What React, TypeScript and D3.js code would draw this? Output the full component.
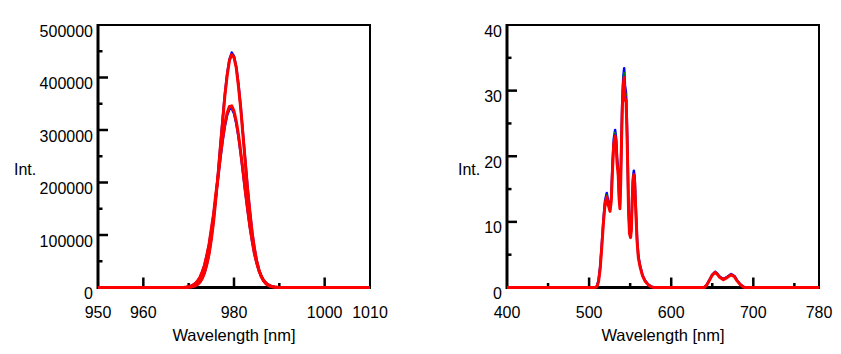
import React from "react";
import * as d3 from "d3";

// ---------- Left panel data (980 nm band) ----------
const leftWl = [950, 968, 968.5, 969, 969.5, 970, 970.5, 971, 971.5, 972, 972.5, 973, 973.5, 974, 974.5, 975, 975.5, 976, 976.5, 977, 977.5, 978, 978.5, 979, 979.5, 980, 980.5, 981, 981.5, 982, 982.5, 983, 983.5, 984, 984.5, 985, 985.5, 986, 986.5, 987, 987.5, 988, 988.5, 989, 989.5, 990, 990.5, 991, 1010];
const tallBlue = [0, 21, 49, 110, 236, 487, 975, 1878, 3480, 6220, 10700, 17800, 28450, 43850, 65100, 93200, 128600, 171000, 219100, 270500, 321900, 369000, 407800, 434300, 447500, 440700, 420100, 385800, 341500, 291300, 239500, 189700, 144800, 106500, 75500, 51600, 34000, 21560, 13190, 7770, 4415, 2410, 1273, 647, 317, 150, 70, 30, 0];
const tallGreen = [0, 20, 48, 108, 233, 482, 965, 1860, 3450, 6170, 10620, 17680, 28280, 43600, 64780, 92750, 128000, 170200, 218100, 269300, 320500, 367400, 406000, 432400, 445500, 439000, 418300, 384100, 340000, 290000, 238400, 188900, 144200, 106000, 75200, 51400, 33850, 21470, 13130, 7740, 4400, 2400, 1268, 644, 316, 149, 70, 30, 0];
const tallRed = [0, 0, 0, 60, 180, 420, 900, 1750, 3300, 6000, 10300, 17200, 27800, 43500, 63500, 92000, 125500, 170000, 216000, 269000, 317500, 367000, 404000, 433000, 443500, 438000, 418500, 382000, 340000, 288000, 238500, 187000, 144500, 104500, 75000, 50500, 33500, 21000, 12900, 7500, 4300, 2300, 1200, 600, 280, 120, 50, 0, 0];
const shortBlue = [0, 132, 259, 498, 925, 1664, 2904, 4914, 8074, 12850, 19840, 29690, 43065, 60630, 82730, 109400, 140400, 174700, 210800, 246600, 279800, 307800, 328400, 339700, 340800, 331500, 312500, 285900, 253500, 218000, 181900, 147000, 115300, 87670, 64650, 46230, 32070, 21550, 14040, 8880, 5445, 3237, 1861, 1041, 564, 297, 149, 69, 0];
const shortGreen = [0, 132, 260, 500, 929, 1671, 2916, 4935, 8108, 12900, 19920, 29810, 43250, 60880, 83080, 109900, 141000, 175500, 211700, 247700, 281000, 309100, 329800, 341100, 342200, 332900, 313900, 287100, 254600, 218900, 182600, 147600, 115800, 88050, 64920, 46430, 32200, 21640, 14100, 8920, 5470, 3250, 1870, 1046, 567, 298, 149, 70, 0];
const shortRed = [0, 0, 200, 450, 880, 1600, 2850, 4900, 8000, 12700, 19500, 30500, 42500, 62000, 82500, 112000, 140000, 179000, 211000, 251000, 283500, 313000, 333000, 345000, 346000, 336000, 316500, 290000, 256500, 221500, 183000, 149500, 116000, 89500, 64500, 47000, 32000, 22000, 14000, 9000, 5400, 3200, 1800, 1000, 500, 250, 100, 0, 0];

const leftXLabels = [950, 960, 980, 1000, 1010];
const leftXMajor = [960, 980, 1000];
const leftXMinor = [970, 990];
const leftYLabels = [0, 100000, 200000, 300000, 400000, 500000];
const leftYMajor = [100000, 200000, 300000, 400000];
const leftYMinor = [50000, 150000, 250000, 350000, 450000];

// ---------- Right panel data (visible band) ----------
const rightWl = [400, 507, 509.5, 511.5, 513.5, 515.5, 517.5, 519.5, 521.5, 523, 524, 525.5, 527, 528.5, 530, 531.7, 533, 534, 535.5, 536.5, 537.5, 538.5, 539.5, 540.5, 541.7, 542.7, 543.7, 545, 546, 547, 548, 549.2, 550.5, 551.5, 552.5, 553.5, 554.5, 555.5, 556.5, 557.5, 558.5, 560, 562, 565, 568, 572, 576, 579, 640, 643, 647, 650, 653.5, 656, 659, 663.5, 668, 673, 677, 680, 684, 688, 690, 780];
const visBlue = [0, 0, 0.2, 1.1, 3.2, 6.6, 10.4, 13.3, 14.4, 13.3, 12.8, 12.1, 13.8, 18.8, 22.6, 24.0, 22.6, 19.8, 17.8, 14.3, 12.6, 16.8, 23.3, 28.8, 32.2, 33.4, 30.8, 29.6, 25.3, 19.3, 12.3, 8.7, 7.9, 9.3, 13.8, 16.8, 17.8, 16.8, 13.3, 10.3, 7.2, 4.8, 3.4, 1.9, 1.1, 0.45, 0.12, 0, 0, 0.35, 1.25, 1.95, 2.4, 2.15, 1.65, 1.3, 1.6, 2.05, 1.75, 1.15, 0.5, 0.1, 0, 0];
const visGreen = [0, 0, 0.15, 1.0, 3.1, 6.5, 10.3, 13.1, 14.1, 13.1, 12.6, 11.9, 13.6, 18.5, 22.3, 23.6, 22.3, 19.5, 17.5, 14.0, 12.4, 16.5, 23.0, 28.4, 31.8, 32.9, 30.4, 29.2, 25.0, 19.0, 12.1, 8.5, 7.8, 9.1, 13.6, 16.6, 17.5, 16.5, 13.1, 10.1, 7.1, 4.7, 3.3, 1.85, 1.05, 0.42, 0.1, 0, 0, 0.3, 1.2, 1.9, 2.35, 2.1, 1.6, 1.25, 1.55, 2.0, 1.7, 1.1, 0.45, 0.08, 0, 0];
const visRed = [0, 0, 0.1, 0.9, 2.9, 6.3, 10.0, 12.8, 13.8, 12.6, 12.3, 11.6, 13.2, 18.0, 21.8, 23.1, 21.9, 19.0, 17.0, 13.6, 12.0, 16.0, 22.4, 27.6, 31.0, 32.0, 28.5, 28.6, 24.3, 18.5, 11.8, 8.2, 7.6, 8.8, 13.2, 16.2, 17.2, 16.0, 12.7, 9.8, 6.9, 4.5, 3.2, 1.8, 1.0, 0.4, 0.1, 0, 0, 0.3, 1.2, 1.9, 2.3, 2.05, 1.55, 1.2, 1.5, 1.95, 1.65, 1.05, 0.45, 0.08, 0, 0];

const rightXLabels = [400, 500, 600, 700, 780];
const rightXMajor = [500, 600, 700];
const rightXMinor = [450, 550, 650, 750];
const rightYLabels = [0, 10, 20, 30, 40];
const rightYMajor = [10, 20, 30];
const rightYMinor = [5, 15, 25, 35];

const FONT = "'Liberation Sans', Arial, sans-serif";

type Series = { values: number[]; color: string; width: number; dash?: string };

type PanelProps = {
  x0: number; x1: number; yTop: number; yBot: number;
  xDomain: [number, number]; yDomain: [number, number];
  wl: number[]; series: Series[];
  xLabels: number[]; xMajor: number[]; xMinor: number[];
  yLabels: number[]; yMajor: number[]; yMinor: number[];
  intX: number;
};

function Panel(p: PanelProps) {
  const x = d3.scaleLinear().domain(p.xDomain).range([p.x0, p.x1]);
  const y = d3.scaleLinear().domain(p.yDomain).range([p.yBot, p.yTop]);
  const line = d3.line<number>().x((_, i) => x(p.wl[i])).y((v) => y(v)).curve(d3.curveLinear);
  return (
    <g>
      {/* frame top/right */}
      <line x1={p.x0} x2={p.x1 + 1} y1={p.yTop} y2={p.yTop} stroke="#000" strokeWidth={2} />
      <line x1={p.x1} x2={p.x1} y1={p.yTop} y2={p.yBot} stroke="#000" strokeWidth={2} />
      {/* axes */}
      <line x1={p.x0} x2={p.x0} y1={p.yTop - 1} y2={p.yBot + 1.5} stroke="#000" strokeWidth={3} />
      <line x1={p.x0} x2={p.x1 + 1} y1={p.yBot} y2={p.yBot} stroke="#000" strokeWidth={3} />
      {p.xMajor.map((t) => (
        <line key={"xM" + t} x1={x(t)} x2={x(t)} y1={p.yBot} y2={p.yBot - 10} stroke="#000" strokeWidth={2.5} />
      ))}
      {p.xMinor.map((t) => (
        <line key={"xm" + t} x1={x(t)} x2={x(t)} y1={p.yBot} y2={p.yBot - 4.5} stroke="#000" strokeWidth={2.5} />
      ))}
      {p.yMajor.map((t) => (
        <line key={"yM" + t} x1={p.x0} x2={p.x0 + 10} y1={y(t)} y2={y(t)} stroke="#000" strokeWidth={2.5} />
      ))}
      {p.yMinor.map((t) => (
        <line key={"ym" + t} x1={p.x0} x2={p.x0 + 4.5} y1={y(t)} y2={y(t)} stroke="#000" strokeWidth={2.5} />
      ))}
      {/* data */}
      {p.series.map((s, i) => (
        <path key={"s" + i} d={line(s.values) || ""} fill="none" stroke={s.color} strokeWidth={s.width}
          strokeDasharray={s.dash} strokeLinejoin="round" />
      ))}
      {/* labels */}
      {p.xLabels.map((t) => (
        <text key={"xl" + t} x={x(t)} y={318} textAnchor="middle" fontSize={16} fontFamily={FONT} fill="#000">{t}</text>
      ))}
      {p.yLabels.map((t) => (
        <text key={"yl" + t} x={p.x0 - 5} y={y(t) + 11.5} textAnchor="end" fontSize={16} fontFamily={FONT} fill="#000">{t}</text>
      ))}
      <text x={(p.x0 + p.x1) / 2} y={341} textAnchor="middle" fontSize={16.5} fontFamily={FONT} fill="#000">Wavelength [nm]</text>
      <text x={p.intX} y={175} fontSize={16} fontFamily={FONT} fill="#000">Int.</text>
    </g>
  );
}

export default function App() {
  const leftSeries: Series[] = [
    { values: tallBlue, color: "#0000ff", width: 2.5 },
    { values: shortBlue, color: "#0000ff", width: 2.5 },
    { values: tallGreen, color: "#008000", width: 2, dash: "3,4" },
    { values: shortGreen, color: "#008000", width: 2, dash: "3,4" },
    { values: tallRed, color: "#ff0000", width: 3 },
    { values: shortRed, color: "#ff0000", width: 3 },
  ];
  const rightSeries: Series[] = [
    { values: visBlue, color: "#0000ff", width: 2.5 },
    { values: visGreen, color: "#008000", width: 2, dash: "3,4" },
    { values: visRed, color: "#ff0000", width: 3 },
  ];
  return (
    <svg width={841} height={354} style={{ position: "absolute", left: 0, top: 0, background: "#fff" }}>
      <rect x={0} y={0} width={841} height={354} fill="#fff" />
      <Panel x0={98} x1={370} yTop={25} yBot={287.5} xDomain={[950, 1010]} yDomain={[0, 500000]}
        wl={leftWl} series={leftSeries}
        xLabels={leftXLabels} xMajor={leftXMajor} xMinor={leftXMinor}
        yLabels={leftYLabels} yMajor={leftYMajor} yMinor={leftYMinor} intX={14} />
      <Panel x0={507} x1={819} yTop={25} yBot={287.5} xDomain={[400, 780]} yDomain={[0, 40]}
        wl={rightWl} series={rightSeries}
        xLabels={rightXLabels} xMajor={rightXMajor} xMinor={rightXMinor}
        yLabels={rightYLabels} yMajor={rightYMajor} yMinor={rightYMinor} intX={458} />
    </svg>
  );
}
